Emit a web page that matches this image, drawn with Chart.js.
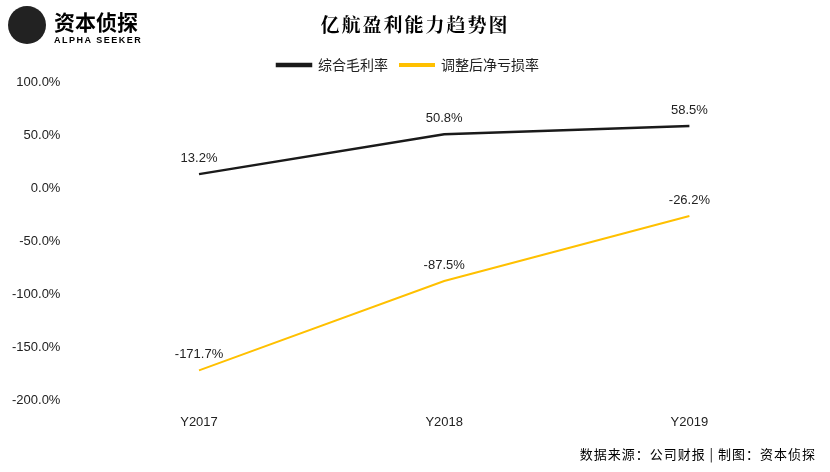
<!DOCTYPE html>
<html><head><meta charset="utf-8">
<script src="https://cdn.jsdelivr.net/npm/chart.js@4/dist/chart.umd.min.js"></script>
<style>
body{margin:0;background:#fff;font-family:"Noto Sans CJK SC",sans-serif}
#wrap{position:relative;width:830px;height:472px}
#title{position:absolute;top:10px;left:0;width:830px;text-align:center;font-size:19px;font-weight:bold;font-family:"Noto Serif CJK SC","Noto Sans CJK SC",serif;letter-spacing:2px}
#logo{position:absolute;top:4px;left:8px}
#logo .cn{position:absolute;left:46px;top:2px;font-size:21px;font-weight:bold;white-space:nowrap}
#logo .en{position:absolute;left:46px;top:31px;font-size:9px;font-weight:bold;letter-spacing:1.5px;white-space:nowrap;font-family:Arial,"Liberation Sans",sans-serif}
#logo .ic{position:absolute;left:0;top:2px;width:38px;height:38px;border-radius:50%;background:#222}
#src{position:absolute;right:14px;top:444px;font-size:13px;letter-spacing:1px}
canvas{position:absolute;left:0;top:0}
</style></head><body>
<div id="wrap">
<canvas id="c" width="830" height="472"></canvas>
<div id="logo"><div class="ic"></div><div class="cn">资本侦探</div><div class="en">ALPHA SEEKER</div></div>
<div id="title">亿航盈利能力趋势图</div>
<div id="src">数据来源：公司财报 | 制图：资本侦探</div>
</div>
<script>
const categories = ['Y2017', 'Y2018', 'Y2019'];
const grossMargin = [13.2, 50.8, 58.5];
const adjNetLoss = [-171.7, -87.5, -26.2];
const seriesNames = ['综合毛利率', '调整后净亏损率'];

const labelPlugin = {
  id: 'labels',
  afterDatasetsDraw(chart) {
    const ctx = chart.ctx;
    ctx.save();
    ctx.font = '13px Arial, "Liberation Sans", sans-serif';
    ctx.fillStyle = '#222';
    ctx.textAlign = 'center';
    chart.data.datasets.forEach((ds, i) => {
      chart.getDatasetMeta(i).data.forEach((pt, j) => {
        ctx.fillText(ds.data[j].toFixed(1) + '%', pt.x, pt.y - 16);
      });
    });
    ctx.restore();
  }
};

new Chart(document.getElementById('c'), {
  type: 'line',
  data: {
    labels: categories,
    datasets: [
      { label: seriesNames[0], data: grossMargin, borderColor: '#1a1a1a', backgroundColor: '#1a1a1a', borderWidth: 2.5, pointRadius: 0, tension: 0 },
      { label: seriesNames[1], data: adjNetLoss, borderColor: '#FFC000', backgroundColor: '#FFC000', borderWidth: 2, pointRadius: 0, tension: 0 }
    ]
  },
  options: {
    responsive: false,
    animation: false,
    layout: { padding: { top: 46, left: 4, right: 18, bottom: 36 } },
    plugins: {
      legend: { position: 'top', labels: { boxWidth: 34, boxHeight: 2, color: '#222', font: { size: 14, family: '"Noto Sans CJK SC"' }, padding: 12 } },
      tooltip: { enabled: false }
    },
    scales: {
      x: { offset: true, grid: { display: false, offset: true }, border: { display: false }, ticks: { color: '#222', font: { size: 13, family: 'Arial, "Liberation Sans"' }, padding: 6 } },
      y: { min: -200, max: 100, grid: { display: false }, border: { display: false },
        ticks: { stepSize: 50, color: '#222', font: { size: 13, family: 'Arial, "Liberation Sans"' }, callback: v => v.toFixed(1) + '%', padding: 8 } }
    }
  },
  plugins: [labelPlugin]
});
</script>
</body></html>
